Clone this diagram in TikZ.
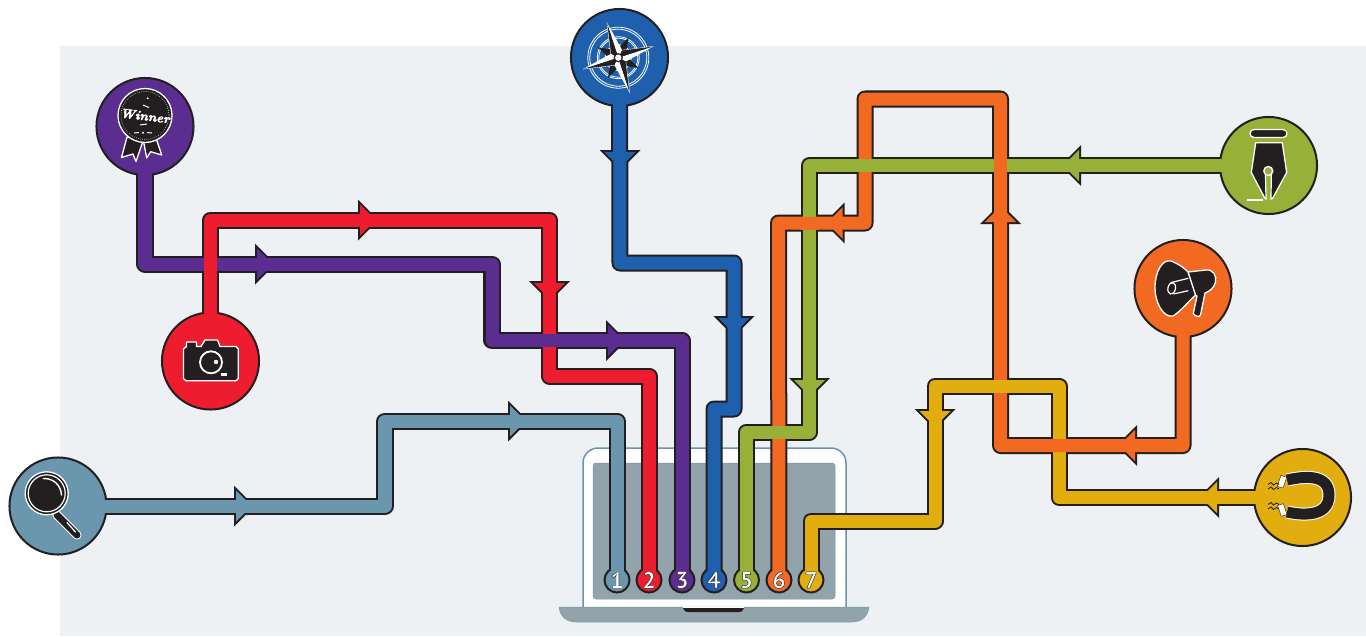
\documentclass[tikz,border=0pt]{standalone}
\usepackage{fontspec}
\newfontfamily\numfont{PT Sans}
\usepackage{xcolor}
\usepackage{tikz}
\definecolor{ink}{HTML}{231F20}
\definecolor{panelcol}{HTML}{EDF1F4}
\definecolor{screencol}{HTML}{93A3AB}
\definecolor{slatecol}{HTML}{6A97AD}
\definecolor{redcol}{HTML}{ED1C2E}
\definecolor{purplecol}{HTML}{5C2D91}
\definecolor{bluecol}{HTML}{1F60AE}
\definecolor{greencol}{HTML}{97B037}
\definecolor{orangecol}{HTML}{F26A21}
\definecolor{yellowcol}{HTML}{E1AD0F}
\pgfdeclarelayer{panel}
\pgfdeclarelayer{casing}
\pgfdeclarelayer{flows}
\pgfdeclarelayer{icons}
\pgfsetlayers{panel,casing,main,flows,icons}
\tikzset{
    badge/.style={circle,draw=ink,line width=0.02cm,minimum size=0.97cm,inner sep=0pt,outer sep=0pt},
    socket/.style={circle,draw=ink,line width=0.02cm,minimum size=0.25cm,inner sep=0pt,outer sep=0pt},
    digit/.style={white,inner sep=0pt,font=\numfont\bfseries\fontsize{6.6}{7}\selectfont},
    casing/.style={ink,line width=0.17cm,line join=round},
    flow/.style={#1,line width=0.13cm,line join=round},
    icon/.style={fill=ink,draw=white,line width=0.013cm,line join=round},
    hair/.style={draw=white,line width=0.01cm},
}
\begin{document}
\begin{tikzpicture}[x=0.01cm,y=-0.01cm]
    \useasboundingbox (0,0) rectangle (1366,636);

    % Panel and laptop
    \begin{pgfonlayer}{panel}
        \fill[panelcol] (60,46) rectangle (1366,636);
        \draw[fill=white,draw=slatecol,line width=0.015cm,rounded corners=0.15cm] (583,607) -- (583,448) -- (846,448) -- (846,607);
        \draw[fill=screencol,draw=slatecol!70!screencol,line width=0.005cm,rounded corners=0.03cm] (593,463) rectangle (835,599);
        \draw[fill=screencol,draw=slatecol!70!screencol,line width=0.005cm] (559,607) -- (869,607) .. controls (868,616) and (862,622) .. (852,622) -- (576,622) .. controls (566,622) and (560,616) .. (559,607) -- cycle;
        \fill[white] (683,607) rectangle (744,608);
        \fill[ink] (683,608) -- (744,608) .. controls (743,611) and (742,612) .. (738,612) -- (689,612) .. controls (685,612) and (684,611) .. (683,608) -- cycle;
    \end{pgfonlayer}

    % Badges
    \node[badge,fill=purplecol] (winner) at (145,126.5) {};
    \node[badge,fill=redcol] (camera) at (210.5,361) {};
    \node[badge,fill=slatecol] (search) at (58,506) {};
    \node[badge,fill=bluecol] (compass) at (619.5,57.5) {};
    \node[badge,fill=greencol] (pen) at (1268.5,165.5) {};
    \node[badge,fill=orangecol] (megaphone) at (1183,288.5) {};
    \node[badge,fill=yellowcol] (magnet) at (1302.5,497.5) {};

    % Sockets on the screen
    \foreach \i/\x/\c in {1/617/slatecol,2/649/redcol,3/682/purplecol,4/714/bluecol,5/746.5/greencol,6/779/orangecol,7/811/yellowcol}
        \node[socket,fill=\c] (n\i) at (\x,580) {};

    % Routes
    \newcommand{\slateroute}{(search.center) -- (385,506) -- (385,421) -- (617,421) -- (n1.center)}
    \newcommand{\redroute}{(camera.center) -- (210.5,220) -- (549.5,220) -- (549.5,376) -- (649,376) -- (n2.center)}
    \newcommand{\purpleroute}{(winner.center) -- (145,264) -- (492,264) -- (492,340.5) -- (682,340.5) -- (n3.center)}
    \newcommand{\blueroute}{(compass.center) -- (620,263) -- (734,263) -- (734,409) -- (714,409) -- (n4.center)}
    \newcommand{\greenroute}{(pen.center) -- (809.5,165.5) -- (809.5,432) -- (746.5,432) -- (n5.center)}
    \newcommand{\orangeroute}{(megaphone.center) -- (1183,445.5) -- (1000.5,445.5) -- (1000.5,99) -- (865,99) -- (865,223) -- (778.5,223) -- (n6.center)}
    \newcommand{\yellowroute}{(magnet.center) -- (1059,497.5) -- (1059,386) -- (935,386) -- (935,521) -- (811,521) -- (n7.center)}

    \begin{pgfonlayer}{casing}
        \foreach \lane in {\slateroute,\redroute,\purpleroute,\blueroute,\greenroute,\orangeroute,\yellowroute}
            \draw[casing] \lane;
        \foreach \x/\y/\a in {234/506/0,508/421/0,358/220/0,549.5/281/270,255/264/0,606/340.5/0,620/150/270,734/316/270,1081/165.5/180,809.5/378/270,1137/445.5/180,1000.5/224/90,844.5/223/180,1219/497.5/180,935/409/270}
            \fill[ink,shift={(\x,\y)},rotate=\a] (0,-20.5) -- (20.5,0) -- (0,20.5) -- cycle;
    \end{pgfonlayer}

    \begin{pgfonlayer}{flows}
        \draw[flow=slatecol] \slateroute;
        \draw[flow=purplecol] \purpleroute;
        \draw[flow=redcol] \redroute;
        \draw[flow=purplecol] (540,340.5) -- (559,340.5);
        \draw[flow=bluecol] \blueroute;
        \draw[flow=yellowcol] \yellowroute;
        \draw[flow=orangecol] \orangeroute;
        \draw[flow=greencol] \greenroute;
        \draw[flow=orangecol] (800,223) -- (819,223);
        \draw[flow=orangecol] (1000.5,156) -- (1000.5,175);
        \draw[flow=yellowcol] (991,386) -- (1010,386);
        \foreach \x/\y/\a/\c in {234/506/0/slatecol,508/421/0/slatecol,358/220/0/redcol,549.5/281/270/redcol,255/264/0/purplecol,606/340.5/0/purplecol,620/150/270/bluecol,734/316/270/bluecol,1081/165.5/180/greencol,809.5/378/270/greencol,1137/445.5/180/orangecol,1000.5/224/90/orangecol,844.5/223/180/orangecol,1219/497.5/180/yellowcol,935/409/270/yellowcol}
            \fill[\c,shift={(\x,\y)},rotate=\a] (2,-15.7) -- (17.7,0) -- (2,15.7) -- cycle;
    \end{pgfonlayer}

    \begin{pgfonlayer}{icons}
        % Numbers
        \foreach \i in {1,...,7}
            \node[digit] (d\i) at (n\i) {\special{pdf:code 0.14 0.12 0.13 RG 2 Tr 0.12 w}\i\special{pdf:code 0 Tr}};

        % Winner
        \draw[icon] (127,137) -- (121.5,157.5) -- (133,154) -- (136,161.5) -- (143,141) -- cycle;
        \draw[icon] (143.5,141) -- (146.7,158) -- (150.7,151.7) -- (161.7,155) -- (156,138) -- cycle;
        \draw[icon] (145,115.5) circle (27);
        \draw[white,line width=0.008cm,line cap=round,dash pattern=on 0pt off 0.6pt] (145,115.5) circle (24);
        \node[white,inner sep=0pt,rotate=-7,font=\bfseries\itshape\fontsize{3.7}{5}\selectfont] (winnertext) at (145,116) {\special{pdf:code 1 1 1 RG 2 Tr 0.1 w}Winner\special{pdf:code 0 Tr}};
        \fill[white] (147.7,98.3) circle (1.1);
        \draw[hair] (143,105) -- (149,107.5);
        \draw[hair] (140,125) -- (147,124);
        \draw[hair] (134,133) -- (139,132.5) (147,132.5) -- (152,133);
        \fill[white] (143,132.7) circle (1.1);

        % Camera
        \draw[icon] (183.5,349) -- (186.5,346.5) -- (186.5,342) -- (196.5,342) -- (196.5,346.5) -- (201,346.5) -- (205,340) -- (217.5,340) -- (220,346.5) -- (236,346.5) -- (238.3,349) -- (238.3,378.5) -- (236,380.7) -- (186,380.7) -- (183.5,378.5) -- cycle;
        \draw[white,line width=0.018cm] (211,362.3) circle (11);
        \fill[white] (216,362) circle (2.2);
        \fill[white] (221,372.7) rectangle (227.3,376);

        % Search
        \draw[white,line width=0.09cm,line cap=round] (57,515) -- (77,535);
        \draw[ink,line width=0.07cm,line cap=round] (57,515) -- (77,535);
        \draw[white,line width=0.012cm,line cap=round] (67,522.5) -- (75.5,532);
        \draw[icon] (46.7,493.3) circle (21.5);
        \draw[white,line width=0.012cm] (46.7,493.3) circle (18.5);
        \draw[white,line width=0.014cm,line cap=round] (43.3,478.5) .. controls (53,478) and (61,485) .. (61.5,495);

        % Compass
        \foreach \r in {30.5,28.5,21,19.5,13}
            \draw[white,line width=0.008cm] (618.3,57.7) circle (\r);
        \foreach \a in {63,153,243,333}
            \fill[ink,shift={(618.3,57.7)},rotate=\a] (0,-7) -- (23,0) -- (0,7) -- cycle;
        \foreach \a in {18,108,198,288} {
            \fill[white,shift={(618.3,57.7)},rotate=\a] (0,0) -- (6,6) -- (37,0) -- cycle;
            \fill[ink,shift={(618.3,57.7)},rotate=\a] (0,0) -- (6,-6) -- (37,0) -- cycle;
            \draw[white,line width=0.004cm,shift={(618.3,57.7)},rotate=\a] (6,-6) -- (37,0);
        }
        \draw[ink,fill=white,line width=0.012cm] (618.3,57.7) circle (4);

        % Pen
        \draw[icon,rounded corners=0.04cm] (1250,129.5) rectangle (1287,137.5);
        \draw[icon] (1255.7,142.7) -- (1282.3,142.7) -- (1286.7,172.5) -- (1272.5,198.5) -- (1265,198.5) -- (1251.3,172.5) -- cycle;
        \fill[greencol] (1266,175) rectangle (1271,199);
        \draw[white,line width=0.012cm] (1265.5,175) -- (1266,199.5) (1271.3,175) -- (1271,199.5);
        \draw[white,line width=0.014cm,fill=greencol] (1268.3,171) circle (4.5);
        \fill[white] (1246.7,198.7) rectangle (1262.7,200.9);

        % Megaphone
        \draw[icon] (1188,272) -- (1206,270) .. controls (1213,269) and (1217,276) .. (1215.5,282) .. controls (1214,288) and (1210,291) .. (1205,293) -- (1200.5,315) .. controls (1199,318) and (1195,316) .. (1193.3,313.5) -- (1197,296) -- (1195,295) -- cycle;
        \draw[icon] (1171,261) .. controls (1181,265) and (1185,269) .. (1188,272) -- (1195.5,295) .. controls (1188,302) and (1181,311) .. (1173,316) .. controls (1163,318) and (1155,302) .. (1155,288) .. controls (1155,272) and (1162,259) .. (1171,261) -- cycle;
        \draw[white,line width=0.012cm] (1170.5,282.7) -- (1188.3,278.3) (1173.5,294) -- (1188.3,290.7);
        \draw[white,line width=0.012cm,rotate around={-12:(1171.7,288.3)}] (1171.7,288.3) ellipse (3.8 and 5.8);

        % Magnet
        \draw[white,line width=0.13cm] (1287,480) .. controls (1305,476) and (1329,474) .. (1329,495) .. controls (1329,516) and (1305,516) .. (1287,512);
        \draw[ink,line width=0.11cm] (1287,480) .. controls (1305,476) and (1329,474) .. (1329,495) .. controls (1329,516) and (1305,516) .. (1287,512);
        \draw[fill=white,draw=ink,line width=0.004cm,rotate around={-18:(1282,481.7)}] (1279,476) rectangle (1285,487.4);
        \draw[fill=white,draw=ink,line width=0.004cm,rotate around={18:(1282.3,510)}] (1279.3,504.3) rectangle (1285.3,515.7);
        \foreach \y in {484.5,489,504.5,509}
            \draw[ink,line width=0.008cm] (1268,\y) -- ++(3,-2) -- ++(2.5,2.5) -- ++(3,-2) -- ++(2.5,1.5);
    \end{pgfonlayer}
\end{tikzpicture}
\end{document}
